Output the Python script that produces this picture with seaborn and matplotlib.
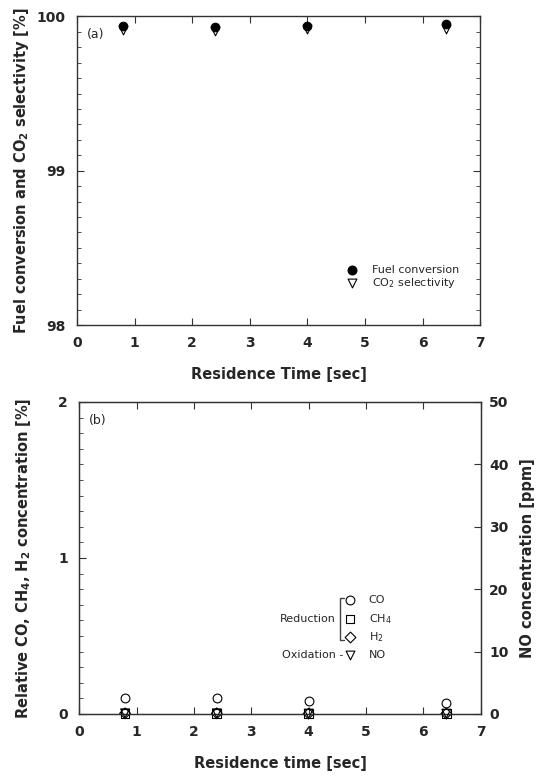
import matplotlib
matplotlib.use("Agg")
import matplotlib.pyplot as plt
from matplotlib.ticker import MultipleLocator
import seaborn as sns
import pandas as pd

# ---- data ----
time_a = [0.8, 2.4, 4.0, 6.4]
fuel_conversion = [99.935, 99.93, 99.94, 99.95]
co2_selectivity = [99.91, 99.905, 99.915, 99.92]

time_b = [0.8, 2.4, 4.0, 6.4]
co_conc = [0.10, 0.10, 0.08, 0.072]
ch4_conc = [0.005, 0.005, 0.003, 0.003]
h2_conc = [0.004, 0.004, 0.002, 0.002]
no_conc = [0.1, 0.1, 0.05, 0.05]

sns.set_style("ticks")
plt.rcParams['font.family'] = ['DejaVu Sans']
plt.rcParams['mathtext.default'] = 'regular'

fig = plt.figure(figsize=(5.42, 7.76), dpi=100)
axa = fig.add_axes([0.142, 0.581, 0.744, 0.398])
axb = fig.add_axes([0.146, 0.080, 0.741, 0.402])

def style_axis(ax):
    for s in ax.spines.values():
        s.set_color('#333333')
        s.set_linewidth(1.0)
    ax.tick_params(which='both', direction='in', top=True, color='#333333')
    ax.tick_params(which='major', length=5, pad=8)
    ax.tick_params(which='minor', length=3)
    for lab in ax.get_xticklabels() + ax.get_yticklabels():
        lab.set_fontweight('bold')
        lab.set_fontsize(10)

# ---- panel (a) ----
dfa = pd.DataFrame({'t': time_a, 'fuel': fuel_conversion, 'co2': co2_selectivity})
sns.scatterplot(data=dfa, x='t', y='co2', ax=axa, marker='v', s=40,
                facecolor='white', edgecolor='black', linewidth=0.8, zorder=3, clip_on=False)
sns.scatterplot(data=dfa, x='t', y='fuel', ax=axa, marker='o', s=38,
                color='black', edgecolor='black', linewidth=0.8, zorder=4, clip_on=False)
axa.set_xlim(0, 7)
axa.set_ylim(98, 100)
axa.xaxis.set_major_locator(MultipleLocator(1))
axa.yaxis.set_major_locator(MultipleLocator(1))
axa.yaxis.set_minor_locator(MultipleLocator(0.1))
axa.tick_params(axis='y', which='both', right=True)
axa.set_xlabel('Residence Time [sec]', fontsize=10.5, fontweight='bold', labelpad=12)
axa.set_ylabel('Fuel conversion and CO$_2$ selectivity [%]', fontsize=10.5, fontweight='bold', labelpad=4)
style_axis(axa)
axa.text(0.025, 0.93, '(a)', transform=axa.transAxes, fontsize=9)
# legend (a)
axa.scatter([4.78], [98.355], marker='o', s=38, color='black', clip_on=False)
axa.scatter([4.78], [98.27], marker='v', s=40, facecolor='white', edgecolor='black', linewidth=0.8, clip_on=False)
axa.text(5.13, 98.355, 'Fuel conversion', fontsize=8, va='center')
axa.text(5.13, 98.27, 'CO$_2$ selectivity', fontsize=8, va='center')

# ---- panel (b) ----
dfb = pd.DataFrame({'t': time_b, 'CO': co_conc, 'CH4': ch4_conc, 'H2': h2_conc})
sns.scatterplot(data=dfb, x='t', y='CO', ax=axb, marker='o', s=40,
                facecolor='white', edgecolor='black', linewidth=0.8, zorder=3, clip_on=False)
sns.scatterplot(data=dfb, x='t', y='CH4', ax=axb, marker='s', s=40,
                facecolor='none', edgecolor='black', linewidth=0.8, zorder=3, clip_on=False)
sns.scatterplot(data=dfb, x='t', y='H2', ax=axb, marker='D', s=30,
                facecolor='none', edgecolor='black', linewidth=0.8, zorder=3, clip_on=False)
axb.set_xlim(0, 7)
axb.set_ylim(0, 2)
axb.xaxis.set_major_locator(MultipleLocator(1))
axb.yaxis.set_major_locator(MultipleLocator(1))
axb.yaxis.set_minor_locator(MultipleLocator(0.1))
axb.set_xlabel('Residence time [sec]', fontsize=10.5, fontweight='bold', labelpad=12)
axb.set_ylabel('Relative CO, CH$_4$, H$_2$ concentration [%]', fontsize=10.5, fontweight='bold', labelpad=18)
style_axis(axb)
axb.text(0.025, 0.93, '(b)', transform=axb.transAxes, fontsize=9)

axr = axb.twinx()
dfn = pd.DataFrame({'t': time_b, 'NO': no_conc})
sns.scatterplot(data=dfn, x='t', y='NO', ax=axr, marker='v', s=40,
                facecolor='none', edgecolor='black', linewidth=0.8, zorder=3, clip_on=False)
axr.set_ylim(0, 50)
axr.yaxis.set_major_locator(MultipleLocator(10))
axr.tick_params(axis='y', direction='in', length=5, pad=6, color='#333333')
for lab in axr.get_yticklabels():
    lab.set_fontweight('bold')
    lab.set_fontsize(10)
axr.set_ylabel('NO concentration [ppm]', fontsize=10.5, fontweight='bold', labelpad=8)
for s in axr.spines.values():
    s.set_color('#333333')

# legend (b) in data coords of axb
lx = 4.72
ys = [0.73, 0.61, 0.49]
yno = 0.38
axb.scatter([lx], [ys[0]], marker='o', s=40, facecolor='white', edgecolor='black', linewidth=0.8)
axb.scatter([lx], [ys[1]], marker='s', s=40, facecolor='white', edgecolor='black', linewidth=0.8)
axb.scatter([lx], [ys[2]], marker='D', s=30, facecolor='white', edgecolor='black', linewidth=0.8)
axb.scatter([lx], [yno], marker='v', s=40, facecolor='white', edgecolor='black', linewidth=0.8)
lt = 5.05
axb.text(lt, ys[0], 'CO', fontsize=8, va='center')
axb.text(lt, ys[1], 'CH$_4$', fontsize=8, va='center')
axb.text(lt, ys[2], 'H$_2$', fontsize=8, va='center')
axb.text(lt, yno, 'NO', fontsize=8, va='center')
axb.text(4.47, ys[1], 'Reduction', fontsize=8, va='center', ha='right')
axb.plot([4.61, 4.55, 4.55, 4.61], [0.74, 0.74, 0.475, 0.475], color='#444444', lw=1.0)
axb.text(4.60, yno, 'Oxidation -', fontsize=8, va='center', ha='right')

fig.savefig('out.png', dpi=100)
